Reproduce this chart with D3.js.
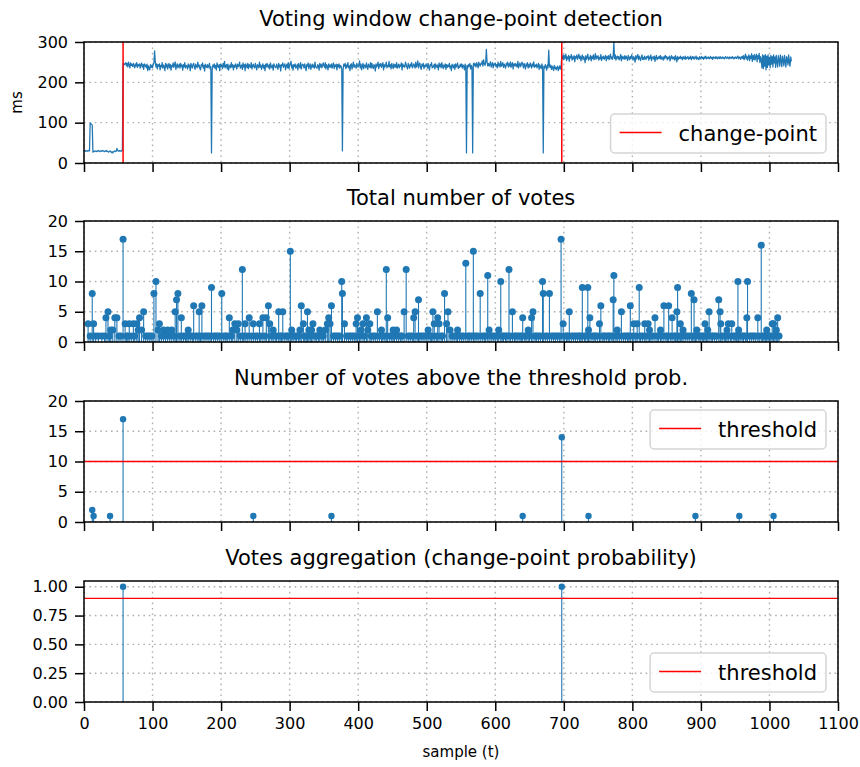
<!DOCTYPE html>
<html>
<head>
<meta charset="utf-8">
<script src="https://cdn.jsdelivr.net/npm/d3@7"></script>
<style>
  body { margin: 0; background: #fff; }
  svg { display: block; font-family: "DejaVu Sans", sans-serif; }
</style>
</head>
<body>
<svg id="chart" width="860" height="767"></svg>
<script>
// Response time of the monitored service (ms), one value per sample t = 0, 1, 2, ...
const latencyMs = [
  31,30,29,31,30,29,30,31,30,99,
  97,96,94,27,29,28,30,29,28,30,
  29,31,30,28,29,30,29,31,30,29,
  28,30,29,31,29,28,27,29,30,28,
  26,28,25,28,29,30,28,29,36,31,
  30,29,31,30,29,31,32,246,247,244,
  246,249,241,247,238,250,244,236,248,242,
  245,239,247,241,236,246,240,249,237,244,
  241,246,235,243,248,238,244,232,246,240,
  243,236,245,229,241,234,231,244,237,242,
  236,245,248,278,250,238,246,233,244,240,
  246,231,242,238,249,235,243,240,229,247,
  238,245,233,241,247,236,244,230,242,239,
  248,237,243,251,232,240,246,236,241,245,
  235,247,239,243,230,244,238,249,236,242,
  240,233,246,238,243,229,247,241,235,244,
  247,238,232,245,240,236,250,239,243,234,
  231,244,240,248,235,242,228,245,239,237,
  244,236,241,247,233,239,25,230,243,238,
  246,235,242,231,248,240,237,244,229,245,
  239,243,234,247,238,252,236,241,244,233,
  245,230,240,243,236,249,238,244,231,242,
  237,246,241,233,245,239,242,250,235,240,
  243,232,248,238,244,229,246,240,236,247,
  234,244,240,237,249,233,242,245,238,236,
  247,239,231,244,241,236,250,238,243,232,
  240,246,235,242,229,245,238,247,240,236,
  244,233,248,239,236,243,230,246,241,238,
  236,245,240,232,247,238,243,228,244,241,
  248,237,242,246,231,240,245,236,249,234,
  241,247,252,236,243,230,244,239,246,235,
  238,244,231,247,240,236,249,233,242,245,
  243,235,246,238,229,244,240,248,234,241,
  246,232,240,245,237,243,235,250,239,236,
  235,244,241,230,247,238,245,236,242,248,
  241,237,249,233,244,240,231,246,238,243,
  237,246,235,242,248,234,243,239,245,231,
  244,238,246,235,242,240,233,30,232,245,
  240,247,234,243,238,249,236,241,229,244,
  246,233,242,250,237,244,239,235,247,240,
  238,243,253,236,245,231,241,247,234,243,
  242,236,248,239,232,245,240,237,249,235,
  247,239,234,244,241,228,246,238,243,250,
  234,245,240,247,237,242,249,231,244,238,
  243,250,236,242,239,252,238,244,233,247,
  240,234,246,238,244,237,249,235,241,245,
  236,243,240,248,231,246,239,242,237,250,
  244,238,233,247,241,235,245,240,249,236,
  239,246,242,235,250,238,243,253,236,244,
  248,237,232,245,240,247,234,242,239,246,
  242,235,247,238,230,244,241,249,236,240,
  238,245,233,246,240,237,243,231,248,239,
  245,236,249,240,234,243,238,246,232,244,
  237,243,239,247,235,241,229,245,240,236,
  244,232,246,238,242,248,234,240,237,245,
  239,246,235,243,240,231,245,238,25,242,
  236,244,240,247,233,242,238,25,245,248,
  241,246,238,249,243,236,250,244,240,247,
  245,253,240,256,247,242,249,282,251,241,
  247,240,245,251,238,244,249,236,246,243,
  248,239,244,236,250,241,246,238,252,240,
  243,249,237,245,241,235,247,243,250,238,
  246,240,251,237,244,249,233,246,241,247,
  240,245,238,252,236,243,248,239,244,250,
  245,236,247,241,233,246,240,249,235,244,
  238,248,242,235,246,240,251,237,243,239,
  245,236,241,247,232,243,238,234,246,237,
  25,240,235,244,238,230,243,236,280,241,
  237,243,232,240,236,229,242,234,238,231,
  236,240,229,235,241,233,238,265,259,268,
  256,266,260,270,254,263,258,267,252,264,
  261,269,255,263,258,266,251,264,260,268,
  257,263,270,259,265,253,262,268,256,264,
  260,249,266,257,263,270,255,262,258,267,
  253,264,259,268,256,262,271,257,265,260,
  266,255,262,258,269,254,263,259,265,257,
  261,267,253,264,259,266,256,263,270,258,
  263,257,266,300,259,268,255,262,265,258,
  264,256,261,269,253,265,259,263,257,266,
  258,265,260,254,267,261,256,264,259,268,
  262,255,264,259,250,266,258,263,269,256,
  265,259,254,263,268,257,262,256,265,260,
  257,264,261,266,255,263,259,268,254,262,
  263,258,265,252,261,267,256,262,259,265,
  259,266,257,263,260,255,264,258,267,261,
  264,256,262,259,265,253,261,266,258,263,
  258,263,255,266,260,251,264,257,262,259,
  265,259,262,256,264,260,258,265,257,262,
  260,264,257,262,259,265,256,261,264,258,
  263,258,261,265,257,262,260,256,264,259,
  261,264,259,262,257,263,260,265,258,262,
  260,263,258,261,264,259,262,257,263,260,
  262,259,264,260,258,263,261,259,264,260,
  259,263,260,262,258,261,264,260,259,263,
  261,258,263,260,262,259,264,261,258,262,
  260,263,259,262,265,258,261,263,257,262,
  264,259,266,256,263,270,258,265,255,262,
  268,254,265,259,271,252,266,257,269,255,
  263,270,251,266,258,272,249,264,256,236,
  268,234,266,240,269,231,265,237,268,243,
  262,236,267,245,264,238,268,248,263,237,
  267,250,238,266,256,240,268,253,239,265,
  255,241,267,251,238,264,257,243,268,250,
  240,263,252
];

// Detected change-points (sample index)
const changePoints = [57, 697];

// Total number of votes per sample
const voteSamples = [
  6,9,12,14,17,21,26,30,32,35,
  37,39,42,45,48,51,54,57,60,62,
  64,66,69,72,74,77,79,81,84,87,
  90,93,96,99,102,105,108,110,113,116,
  119,122,125,128,131,133,135,137,140,142,
  145,148,150,152,155,158,160,163,166,168,
  170,172,175,178,181,184,186,189,192,195,
  198,201,204,207,209,212,215,217,220,223,
  225,228,231,233,235,238,241,244,247,250,
  253,256,258,261,264,266,269,271,274,276,
  279,281,284,286,288,290,293,296,298,301,
  303,305,308,310,313,315,317,320,322,324,
  326,328,330,332,334,337,339,342,344,347,
  349,352,355,357,359,361,364,367,370,373,
  376,377,380,383,386,389,392,395,397,399,
  402,404,407,409,412,414,417,419,422,425,
  428,431,434,436,439,441,443,446,449,451,
  453,456,459,462,464,467,470,473,476,479,
  481,483,486,488,490,493,496,499,502,505,
  507,509,511,514,516,518,521,523,526,529,
  531,534,537,540,543,545,548,551,554,557,
  560,562,565,568,569,572,575,578,581,584,
  586,589,591,594,597,600,603,605,608,610,
  612,615,617,620,622,625,628,630,633,636,
  638,640,643,645,648,650,653,655,658,660,
  663,666,669,670,673,676,679,682,685,688,
  691,694,696,699,701,704,706,708,711,714,
  717,720,723,725,727,730,732,735,736,738,
  741,744,746,749,752,754,757,759,762,765,
  767,770,772,773,776,778,781,784,787,790,
  793,795,797,800,802,805,807,810,812,815,
  818,820,823,825,827,830,833,836,838,841,
  843,846,849,851,853,856,858,861,863,865,
  866,868,870,872,874,877,880,883,886,888,
  890,892,894,897,899,902,904,906,908,910,
  912,915,917,920,923,926,928,929,931,934,
  936,938,940,943,945,948,950,952,954,955,
  957,960,962,965,967,968,971,974,977,980,
  983,985,988,990,992,994,996,998,1000,1002,
  1004,1006,1008,1010,1012,1014
];
const voteCounts = [
  3,1,8,3,1,1,1,1,4,5,
  1,2,2,4,4,1,1,17,3,1,
  1,3,1,3,1,3,2,4,2,5,
  1,1,1,1,8,10,2,3,1,2,
  1,2,1,2,1,5,7,8,1,4,
  1,1,1,2,1,1,6,1,1,5,
  1,6,1,1,1,1,9,1,1,1,
  1,8,1,1,1,4,1,2,3,2,
  3,1,12,1,3,1,4,1,3,1,
  1,3,1,4,1,4,6,3,1,2,
  1,1,5,1,1,5,1,1,1,15,
  2,1,1,1,1,2,6,3,1,1,
  5,2,1,2,3,1,1,1,2,1,
  1,2,3,4,3,6,1,1,1,1,
  10,8,3,1,1,1,1,1,3,4,
  1,2,3,1,4,2,3,1,1,1,
  5,1,2,1,1,12,4,1,1,2,
  1,2,1,1,1,5,12,1,1,1,
  4,5,1,7,1,1,1,1,2,1,
  1,5,3,1,4,3,1,1,8,3,
  5,2,1,1,1,2,1,1,1,13,
  1,1,1,15,1,1,1,8,1,1,
  1,11,2,1,1,1,1,2,10,1,
  1,1,1,12,1,5,1,1,1,1,
  1,4,1,1,2,1,4,5,1,1,
  1,1,10,8,1,1,8,1,1,1,
  1,1,17,3,1,1,1,5,1,1,
  1,1,1,1,9,1,1,9,2,4,
  1,1,1,1,3,6,1,1,1,1,
  1,1,7,11,1,2,1,5,1,1,
  1,1,6,1,3,1,3,9,1,1,
  3,1,3,2,1,1,4,1,1,2,
  1,6,1,1,6,1,4,1,1,5,
  9,1,3,1,2,1,1,1,8,1,
  7,1,2,1,1,1,1,3,1,2,
  5,1,1,1,1,7,5,3,1,1,
  1,2,3,1,3,1,1,1,10,2,
  1,1,1,1,4,10,1,1,1,1,
  4,1,16,1,1,1,2,1,1,1,
  3,3,1,2,4,1
];

// Votes whose probability is above the threshold
const strongSamples = [12, 14, 38, 57, 247, 361, 640, 697, 736, 892, 956, 1006];
const strongCounts  = [2, 1, 1, 17, 1, 1, 1, 14, 1, 1, 1, 1];
const voteThreshold = 10;

// Aggregated change-point probability
const probSamples = [57, 697];
const probValues  = [1, 1];
const probThreshold = 0.9;

// Axis ticks and texts
const xTicks  = [0, 100, 200, 300, 400, 500, 600, 700, 800, 900, 1000, 1100];
const msTicks = [0, 100, 200, 300];
const voteTicks = [0, 5, 10, 15, 20];
const probTicks = [0, 0.25, 0.5, 0.75, 1];
const titles = [
  "Voting window change-point detection",
  "Total number of votes",
  "Number of votes above the threshold prob.",
  "Votes aggregation (change-point probability)"
];

const BLUE = "#1f77b4", RED = "#ff0000";
const LEFT = 84, RIGHT = 838, PH = 121;
const tops = [42, 221, 401, 581];

const svg = d3.select("#chart");
const x = d3.scaleLinear([0, 1100], [LEFT, RIGHT]);

function makePanel(i, domain, ticks, fmt, xLabels) {
  const top = tops[i];
  const y = d3.scaleLinear(domain, [top + PH, top]);
  const g = svg.append("g");
  const clipId = "clip" + i;
  g.append("clipPath").attr("id", clipId)
    .append("rect").attr("x", LEFT).attr("y", top).attr("width", RIGHT - LEFT).attr("height", PH);

  const grid = g.append("g").attr("stroke", "#b0b0b0").attr("stroke-width", 1.4)
    .attr("stroke-dasharray", "1.6,3.8").attr("fill", "none");
  grid.selectAll(".gx").data(xTicks).join("line").attr("class", "gx")
    .attr("x1", d => x(d)).attr("x2", d => x(d)).attr("y1", top).attr("y2", top + PH);
  grid.selectAll(".gy").data(ticks).join("line").attr("class", "gy")
    .attr("x1", LEFT).attr("x2", RIGHT).attr("y1", d => y(d)).attr("y2", d => y(d));

  const plot = g.append("g").attr("clip-path", `url(#${clipId})`);

  const finish = () => {
    const ax = g.append("g").attr("transform", `translate(${LEFT},0)`)
      .call(d3.axisLeft(y).tickValues(ticks).tickSize(9).tickPadding(7).tickFormat(fmt));
    const bx = g.append("g").attr("transform", `translate(0,${top + PH})`)
      .call(d3.axisBottom(x).tickValues(xTicks).tickSize(9).tickPadding(7)
        .tickFormat(xLabels ? d3.format("d") : () => ""));
    [ax, bx].forEach(a => {
      a.select(".domain").remove();
      a.selectAll("line").attr("stroke", "#000").attr("stroke-width", 1.5);
      a.selectAll("text").attr("fill", "#000").style("font-size", "16px")
        .style("font-family", '"DejaVu Sans", sans-serif');
    });
    g.append("rect").attr("x", LEFT).attr("y", top).attr("width", RIGHT - LEFT).attr("height", PH)
      .attr("fill", "none").attr("stroke", "#000").attr("stroke-width", 1.5);
    g.append("text").attr("x", (LEFT + RIGHT) / 2).attr("y", top - 16)
      .attr("text-anchor", "middle").style("font-size", "21px").text(titles[i]);
  };
  return { g, y, top, plot, finish };
}

function legend(p, label, where) {
  const fs = 21, pad = 9, handle = 42, gap = 17, boxH = 39;
  const lg = p.g.append("g");
  const t = lg.append("text").style("font-size", fs + "px").text(label);
  const w = t.node().getComputedTextLength();
  const boxW = pad + handle + gap + w + pad;
  const bx = 826 - boxW;
  const by = where === "upper" ? p.top + 9 : p.top + PH - 10 - boxH;
  lg.insert("rect", "text").attr("x", bx).attr("y", by).attr("width", boxW).attr("height", boxH)
    .attr("rx", 4).attr("fill", "#fff").attr("fill-opacity", 0.8)
    .attr("stroke", "#d5d5d5").attr("stroke-width", 1.5);
  lg.insert("line", "text").attr("x1", bx + pad).attr("x2", bx + pad + handle)
    .attr("y1", by + boxH / 2 - 1).attr("y2", by + boxH / 2 - 1)
    .attr("stroke", RED).attr("stroke-width", 1.5);
  t.attr("x", bx + pad + handle + gap).attr("y", by + boxH / 2 + 7);
}

function stems(p, ts, vs, r) {
  p.plot.append("g").selectAll("line").data(ts).join("line")
    .attr("x1", d => x(d)).attr("x2", d => x(d))
    .attr("y1", p.y(0)).attr("y2", (d, k) => p.y(vs[k]))
    .attr("stroke", BLUE).attr("stroke-width", 1.1);
  p.plot.append("g").selectAll("circle").data(ts).join("circle")
    .attr("cx", d => x(d)).attr("cy", (d, k) => p.y(vs[k])).attr("r", r)
    .attr("fill", BLUE);
}

function hline(p, value) {
  p.plot.append("line").attr("x1", LEFT).attr("x2", RIGHT)
    .attr("y1", p.y(value)).attr("y2", p.y(value))
    .attr("stroke", RED).attr("stroke-width", 1.3);
}

// Panel 1: response time with change-points
const p1 = makePanel(0, [0, 300], msTicks, d3.format("d"), false);
p1.plot.append("path").datum(latencyMs)
  .attr("fill", "none").attr("stroke", BLUE).attr("stroke-width", 1.25).attr("stroke-linejoin", "round")
  .attr("d", d3.line().x((d, k) => x(k)).y(d => p1.y(d)));
p1.plot.append("g").selectAll("line").data(changePoints).join("line")
  .attr("x1", d => x(d)).attr("x2", d => x(d)).attr("y1", p1.top).attr("y2", p1.top + PH)
  .attr("stroke", RED).attr("stroke-width", 1.5);
p1.finish();
legend(p1, "change-point", "lower");
svg.append("text").attr("transform", `translate(17,${tops[0] + PH / 2}) rotate(-90)`)
  .attr("text-anchor", "middle").attr("dy", "0.35em").style("font-size", "15px").text("ms");

// Panel 2: all votes
const p2 = makePanel(1, [0, 20], voteTicks, d3.format("d"), false);
stems(p2, voteSamples, voteCounts, 3.5);
p2.finish();

// Panel 3: votes above threshold probability
const p3 = makePanel(2, [0, 20], voteTicks, d3.format("d"), false);
stems(p3, strongSamples, strongCounts, 3.2);
hline(p3, voteThreshold);
p3.finish();
legend(p3, "threshold", "upper");

// Panel 4: aggregated probability
const p4 = makePanel(3, [0, 1.05], probTicks, d3.format(".2f"), true);
stems(p4, probSamples, probValues, 3.2);
hline(p4, probThreshold);
p4.finish();
legend(p4, "threshold", "lower");
svg.append("text").attr("x", (LEFT + RIGHT) / 2).attr("y", 757)
  .attr("text-anchor", "middle").style("font-size", "15px").text("sample (t)");
</script>
</body>
</html>
